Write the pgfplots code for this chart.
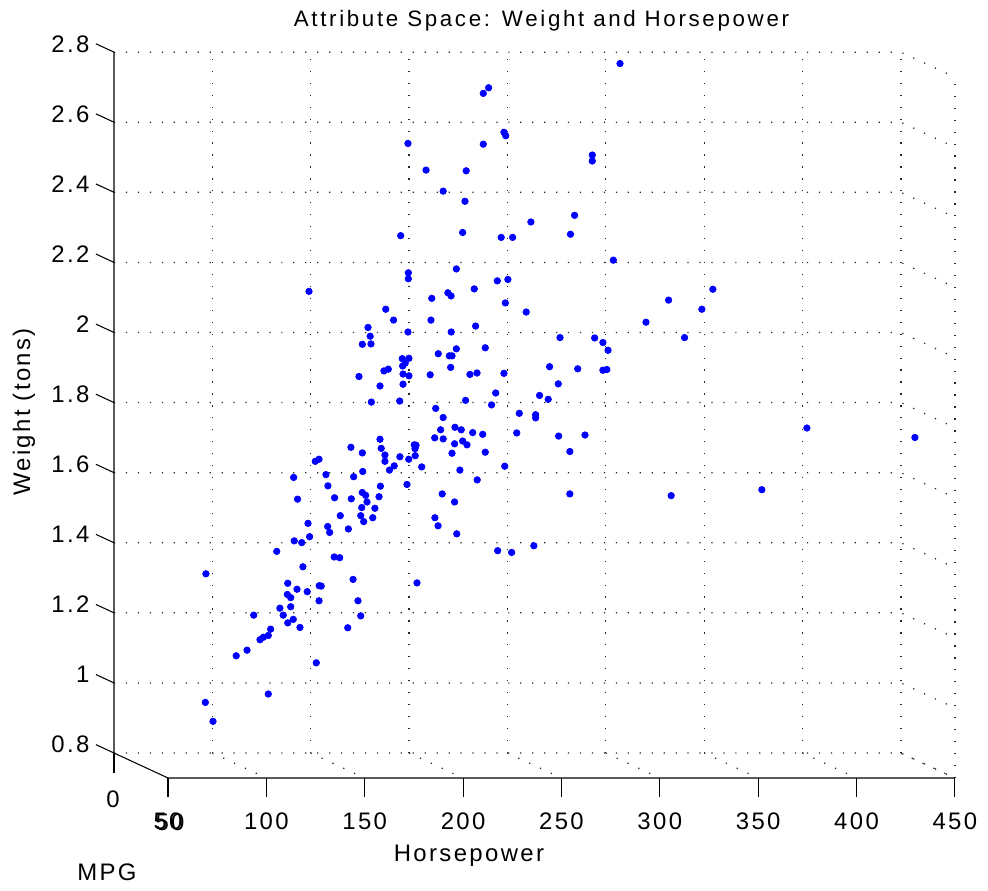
\documentclass[border=0pt]{standalone}
\usepackage{fontspec}
\setmainfont{Liberation Sans}[LetterSpace=10]
\newfontfamily\titlefont{Liberation Sans}[LetterSpace=12]
\usepackage{pgfplots}
\pgfplotsset{compat=1.18}

\tikzset{
  gridl/.style={black!85, line width=0.7pt, line cap=butt, dash pattern=on 0.7pt off 6.1pt},
  axl/.style={black, line width=0.6pt},
  lbl/.style={inner sep=0pt, font=\fontsize{13.6}{16}\selectfont},
}

\begin{document}
\begin{tikzpicture}
\begin{axis}[
  x={(0.03935cm,0cm)}, y={(0.0216cm,-0.0100cm)}, z={(0cm,7.01cm)},
  xmin=50, xmax=450, ymin=0, ymax=50, zmin=0.8, zmax=2.8,
  hide axis, clip=false,
]
% --- grid on the back wall (MPG = 0), the floor and the right wall ---
\pgfplotsinvokeforeach{100,150,200,250,300,350,400,450}{
  \draw[gridl] (axis cs:#1,0,0.8) -- (axis cs:#1,0,2.8);
  \draw[gridl] (axis cs:#1,0,0.8) -- (axis cs:#1,50,0.8);
}
\pgfplotsinvokeforeach{0.8,1,1.2,1.4,1.6,1.8,2,2.2,2.4,2.6,2.8}{
  \draw[gridl] (axis cs:50,0,#1) -- (axis cs:450,0,#1) -- (axis cs:450,50,#1);
  \draw[axl] (axis cs:50,0,#1) -- (axis cs:50,-16.7,#1)
    node[lbl, anchor=east, xshift=-0.12cm] {#1};
}
\draw[gridl] (axis cs:450,50,0.8) -- (axis cs:450,50,2.8);

% --- axis lines and ticks ---
\draw[axl] (axis cs:50,0,2.8) -- (axis cs:50,0,0.8) -- (axis cs:50,50,0.8) -- (axis cs:450,50,0.8);
\pgfplotsinvokeforeach{50,100,150,200,250,300,350,400,450}{
  \draw[axl] (axis cs:#1,50,0.8) -- ([yshift=-0.38cm]axis cs:#1,50,0.8);
  \node[lbl] at (axis cs:#1,50,0.8) [yshift=-0.87cm] {#1};
}
\draw[axl] (axis cs:50,0,0.8) -- ([yshift=-0.4cm]axis cs:50,0,0.8);
\node[lbl] at (axis cs:50,0,0.8) [yshift=-0.92cm, xshift=-0.02cm] {0};
\node[lbl] at (axis cs:50,50,0.8) [yshift=-0.88cm, xshift=0.04cm] {50};
\coordinate (BL) at (axis cs:50,0,0.8);

% --- cars: horsepower, MPG (shown on the mid plane), weight in tons ---
\addplot3[only marks, mark=*, mark size=1.85pt,
          mark options={draw=blue, fill=blue}] table {
hp mpg w
127.6 25 1.622
144.0 25 1.630
158.1 25 1.624
162.7 25 1.639
145.0 25 1.598
171.7 25 1.597
129.6 25 1.560
148.4 25 1.564
156.9 25 1.561
162.5 25 1.579
164.2 25 1.571
171.0 25 1.567
164.9 25 1.552
162.2 25 1.536
168.9 25 1.534
151.3 25 1.513
161.7 25 1.513
167.8 25 1.507
163.2 25 1.496
134.9 25 1.491
144.9 25 1.482
145.9 25 1.465
155.4 25 1.475
135.7 25 1.453
127.9 25 1.441
131.7 25 1.436
119.0 25 1.411
148.2 25 1.395
151.0 25 1.393
132.3 25 1.367
83.0 25 1.347
157.8 25 1.331
124.6 25 1.320
140.6 25 1.313
141.6 25 1.312
129.3 25 1.303
134.5 25 1.296
124.4 25 1.288
126.1 25 1.279
140.5 25 1.270
160.3 25 1.270
120.6 25 1.249
126.1 25 1.253
107.3 25 1.229
122.3 25 1.229
161.7 25 1.227
127.4 25 1.217
124.6 25 1.207
130.8 25 1.194
155.1 25 1.193
115.9 25 1.189
114.7 25 1.171
112.2 25 1.166
110.5 25 1.159
103.9 25 1.129
98.4 25 1.113
139.1 25 1.093
114.7 25 1.004
82.7 25 0.980
86.6 25 0.926
135.4 25 2.153
165.4 25 2.050
166.5 25 2.025
162.5 25 2.002
166.9 25 2.003
160.8 25 1.910
171.5 25 1.883
167.1 25 1.837
171.5 25 1.731
156.7 25 1.708
162.5 25 1.692
172.1 25 1.705
138.6 25 1.668
140.5 25 1.674
210.3 25 2.217
185.9 25 2.206
185.9 25 2.189
231.1 25 2.183
236.5 25 2.187
219.4 25 2.160
206.0 25 2.149
207.6 25 2.140
197.8 25 2.133
235.2 25 2.120
174.4 25 2.102
245.8 25 2.094
178.4 25 2.071
197.4 25 2.071
220.1 25 2.054
185.7 25 2.037
207.7 25 2.037
263.0 25 2.021
210.3 25 1.989
225.0 25 1.992
201.1 25 1.975
206.7 25 1.969
208.1 25 1.969
182.8 25 1.961
186.2 25 1.962
184.3 25 1.948
183.0 25 1.940
207.4 25 1.936
173.5 25 1.926
175.7 25 1.931
257.7 25 1.938
183.2 25 1.917
186.2 25 1.912
197.0 25 1.915
217.2 25 1.916
220.8 25 1.920
234.5 25 1.919
183.2 25 1.888
262.1 25 1.889
230.3 25 1.863
252.6 25 1.856
257.0 25 1.845
181.5 25 1.840
215.0 25 1.842
228.2 25 1.829
199.8 25 1.819
203.6 25 1.793
242.3 25 1.805
250.6 25 1.801
250.6 25 1.792
209.6 25 1.765
212.8 25 1.758
202.3 25 1.758
218.6 25 1.750
223.7 25 1.745
241.0 25 1.749
262.3 25 1.740
199.3 25 1.735
203.6 25 1.732
213.5 25 1.726
209.4 25 1.718
215.7 25 1.715
188.9 25 1.715
189.8 25 1.714
189.3 25 1.704
208.1 25 1.691
225.0 25 1.694
174.0 25 1.686
189.4 25 1.684
181.6 25 1.681
186.1 25 1.674
268.0 25 1.696
174.0 25 1.668
178.7 25 1.655
192.7 25 1.652
176.3 25 1.643
212.1 25 1.643
234.9 25 1.654
185.2 25 1.602
220.9 25 1.615
203.1 25 1.575
209.4 25 1.552
268.0 25 1.575
199.4 25 1.507
201.0 25 1.484
210.5 25 1.461
231.3 25 1.413
238.4 25 1.408
249.7 25 1.427
190.3 25 1.321
224.0 25 2.718
226.7 25 2.734
234.5 25 2.607
235.4 25 2.597
185.7 25 2.575
224.0 25 2.573
194.9 25 2.499
215.3 25 2.497
203.6 25 2.439
214.7 25 2.410
248.2 25 2.351
182.0 25 2.312
213.5 25 2.321
233.1 25 2.307
238.9 25 2.307
268.3 25 2.316
293.5 25 2.803
279.4 25 2.542
279.4 25 2.525
270.4 25 2.370
290.1 25 2.242
340.7 25 2.159
318.2 25 2.128
335.1 25 2.102
306.7 25 2.065
280.6 25 2.020
284.8 25 2.007
287.4 25 1.985
326.3 25 2.021
272.0 25 1.932
284.8 25 1.928
286.8 25 1.930
388.5 25 1.763
443.4 25 1.736
275.7 25 1.743
365.6 25 1.587
319.5 25 1.570
};
\end{axis}

% titles, placed in pixel units of the 988x890 frame
\begin{scope}[x=0.02cm, y=-0.02cm, shift={(BL)}, shift={(-114,-753)}]
  \node[inner sep=0pt, anchor=base, font=\titlefont\fontsize{12.7}{15}\selectfont]
    at (541.5,26.7) {Attribute Space: Weight and Horsepower};
  \node[lbl] at (469,856) {Horsepower};
  \node[lbl] at (107,872) {MPG};
  \node[lbl, rotate=90] at (24,412) {Weight (tons)};
  \pgfresetboundingbox
  \path[use as bounding box] (0,0) rectangle (988,890);
\end{scope}
\end{tikzpicture}
\end{document}
